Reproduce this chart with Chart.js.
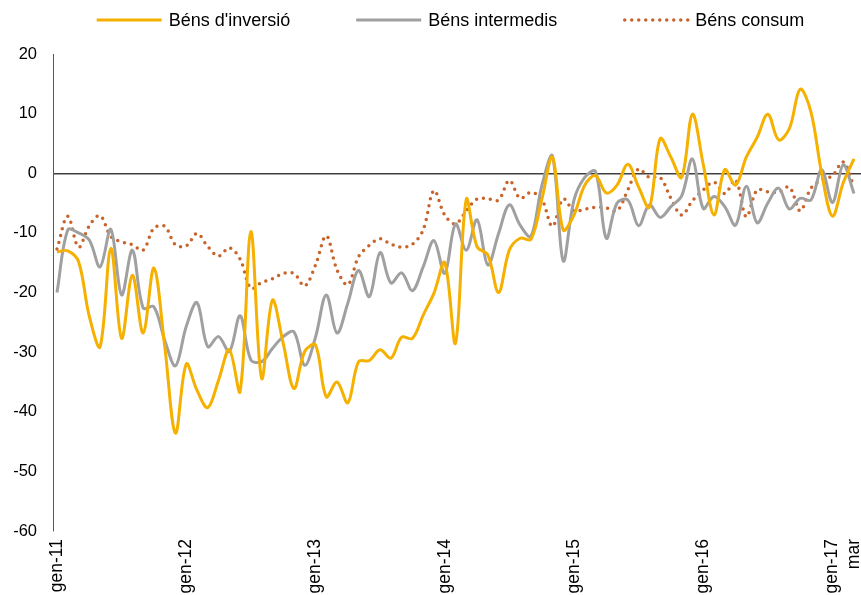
<!DOCTYPE html>
<html>
<head>
<meta charset="utf-8">
<script src="https://cdn.jsdelivr.net/npm/chart.js@4.4.0/dist/chart.umd.min.js"></script>
<style>
  html, body { margin: 0; padding: 0; background: #fff; overflow: hidden; }
  #wrap { width: 861px; height: 595px; }
</style>
</head>
<body>
<div id="wrap"><canvas id="chart" width="861" height="595"></canvas></div>
<script>
// Monthly index, gen-11 .. mar-17 (75 months)
const monthNames = ['gen', 'feb', 'mar', 'abr', 'mai', 'jun', 'jul', 'ago', 'set', 'oct', 'nov', 'des'];
const years = ['11', '12', '13', '14', '15', '16', '17'];
const months = [];
years.forEach(y => monthNames.forEach(m => months.push(m + '-' + y)));
months.length = 75;

// Axis labels shown under the chart
const xTickIndex = [0, 12, 24, 36, 48, 60, 72, 74];
const xTickLabels = ['gen-11', 'gen-12', 'gen-13', 'gen-14', 'gen-15', 'gen-16', 'gen-17', 'mar'];

const inversio = [
  -13.2, -13.0, -14.8, -24.0, -29.1, -12.6, -27.7, -17.1, -26.8, -15.9, -29.0, -43.6,
  -32.0, -36.4, -39.3, -34.7, -29.6, -36.6, -9.8, -34.4, -21.3, -28.5, -36.1, -29.9,
  -28.8, -37.5, -35.0, -38.5, -31.6, -31.4, -29.6, -31.0, -27.5, -27.7, -23.8, -20.1,
  -15.0, -28.5, -4.4, -12.3, -13.7, -20.0, -12.9, -10.9, -11.1, -4.5, 2.7, -9.5,
  -7.0, -2.0, -0.4, -3.3, -2.0, 1.5, -2.3, -5.7, 5.8, 2.7, -0.7, 9.9,
  1.5, -7.0, 0.6, -2.0, 2.7, 6.0, 9.9, 5.6, 7.5, 14.1, 10.3, 0.0,
  -7.2, -1.6, 2.4
];

const intermedis = [
  -20.0, -9.5, -10.0, -11.2, -15.7, -9.4, -20.4, -12.9, -22.6, -22.4, -28.0, -32.3,
  -25.7, -21.7, -29.1, -27.4, -29.9, -23.9, -31.3, -31.6, -29.4, -27.4, -26.6, -32.2,
  -27.5, -20.4, -26.8, -21.8, -16.3, -20.7, -13.3, -18.4, -16.7, -19.7, -15.7, -11.3,
  -16.8, -8.5, -12.9, -7.8, -15.4, -10.1, -5.3, -8.7, -10.6, -2.2, 2.9, -14.7,
  -4.5, -0.7, 0.3, -10.9, -5.0, -4.5, -8.8, -5.3, -7.4, -5.6, -3.8, 2.4,
  -5.9, -3.9, -5.6, -8.7, -2.2, -8.3, -5.0, -2.5, -6.0, -4.2, -4.5, 0.6,
  -4.9, 1.4, -3.4
];

const consum = [
  -12.7, -7.2, -12.4, -8.8, -7.1, -10.6, -11.5, -12.0, -12.9, -9.2, -8.9, -12.0,
  -12.2, -10.1, -12.3, -13.9, -12.5, -14.4, -19.3, -18.3, -17.7, -16.8, -16.8, -18.9,
  -15.4, -10.5, -16.2, -18.7, -14.0, -12.1, -11.0, -11.9, -12.4, -11.9, -9.5, -2.9,
  -7.0, -8.5, -6.3, -4.3, -4.3, -4.5, -1.2, -4.2, -3.2, -4.3, -8.9, -4.3,
  -6.3, -6.0, -5.7, -5.8, -6.3, -2.8, 0.7, -0.7, -0.7, -4.2, -7.0, -4.6,
  -2.8, -1.5, -3.4, -1.1, -7.3, -2.8, -3.1, -3.2, -2.3, -6.3, -2.5, -1.1,
  -0.4, 1.9, -2.3
];

const FAMILY = '"Liberation Sans", Arial, sans-serif';
const FONT = { family: FAMILY, size: 16.5 };
const XFONT = { family: FAMILY, size: 17.5 };
const LEGEND_SIZE = 18;

const toPoints = arr => arr.map((v, i) => ({ x: i, y: v }));

// Legend drawn as line samples followed by the series name
const lineLegend = {
  id: 'lineLegend',
  afterDraw(chart) {
    const ctx = chart.ctx;
    const sets = chart.data.datasets;
    const sample = 65, gap = 7, space = 66, y = 20;
    ctx.save();
    ctx.font = LEGEND_SIZE + 'px ' + FAMILY;
    ctx.textBaseline = 'middle';
    ctx.fillStyle = '#000';
    const widths = sets.map(d => sample + gap + ctx.measureText(d.label).width);
    const total = widths.reduce((a, b) => a + b, 0) + space * (sets.length - 1);
    let x = 450.5 - total / 2;
    sets.forEach((d, i) => {
      ctx.beginPath();
      ctx.strokeStyle = d.borderColor;
      ctx.lineWidth = d.borderWidth;
      ctx.lineCap = d.borderCapStyle || 'butt';
      ctx.setLineDash(d.borderDash || []);
      ctx.moveTo(x + (d.borderDash ? 1.5 : 0), y);
      ctx.lineTo(x + sample, y);
      ctx.stroke();
      ctx.setLineDash([]);
      ctx.fillText(d.label, x + sample + gap, y + 1);
      x += widths[i] + space;
    });
    ctx.restore();
  }
};

new Chart(document.getElementById('chart'), {
  type: 'line',
  data: {
    labels: months,
    datasets: [{
      label: "Béns d'inversió",
      data: toPoints(inversio),
      borderColor: '#F5B000',
      borderWidth: 3,
      pointRadius: 0,
      tension: 0.35,
      fill: false
    }, {
      label: 'Béns intermedis',
      data: toPoints(intermedis),
      borderColor: '#A0A0A0',
      borderWidth: 3,
      pointRadius: 0,
      tension: 0.35,
      fill: false
    }, {
      label: 'Béns consum',
      data: toPoints(consum),
      borderColor: '#C8642A',
      borderWidth: 3.5,
      borderDash: [0, 7],
      borderCapStyle: 'round',
      pointRadius: 0,
      tension: 0.35,
      fill: false
    }]
  },
  options: {
    responsive: false,
    animation: false,
    devicePixelRatio: 1,
    layout: { padding: { top: 54, left: 0, right: 0, bottom: 0 } },
    plugins: {
      legend: { display: false },
      tooltip: { enabled: false }
    },
    scales: {
      x: {
        type: 'linear',
        min: -0.37,
        max: 74.65,
        afterBuildTicks: s => { s.ticks = xTickIndex.map(v => ({ value: v })); },
        afterFit: s => { s.height = 64; s.paddingLeft = 0; s.paddingRight = 0; },
        grid: { display: false, drawTicks: false },
        border: { display: false },
        ticks: {
          autoSkip: false,
          minRotation: 90,
          maxRotation: 90,
          padding: 8,
          color: '#000',
          font: XFONT,
          callback: (v, i) => xTickLabels[i]
        }
      },
      y: {
        min: -60,
        max: 20,
        afterFit: s => { s.width = 53; },
        ticks: { stepSize: 10, padding: 16, color: '#000', font: FONT },
        grid: {
          drawTicks: false,
          lineWidth: 1.5,
          color: c => (c.tick && c.tick.value === 0) ? '#404040' : 'rgba(0,0,0,0)'
        },
        border: { display: true, color: '#595959', width: 1 }
      }
    }
  },
  plugins: [lineLegend]
});
</script>
</body>
</html>
